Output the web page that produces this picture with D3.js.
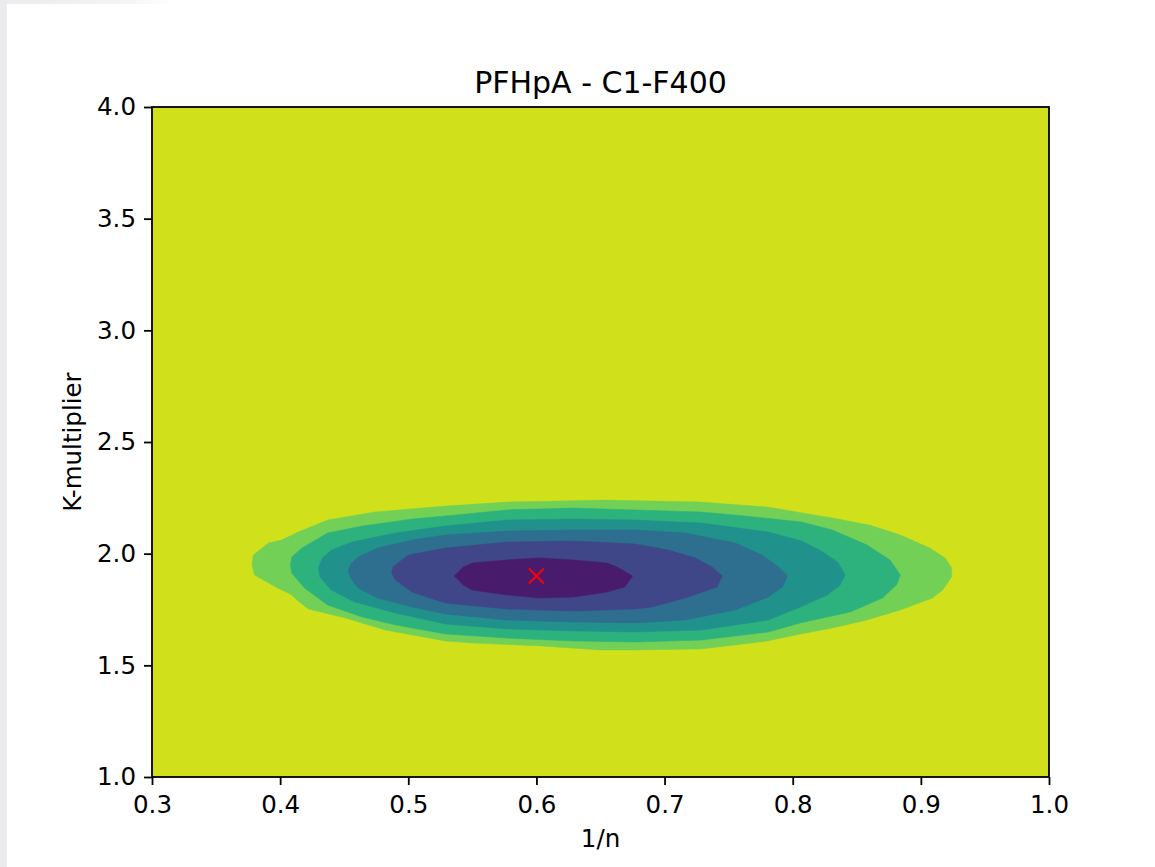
<!DOCTYPE html>
<html>
<head>
<meta charset="utf-8">
<script src="https://cdn.jsdelivr.net/npm/d3@7"></script>
<style>
  html, body { margin: 0; padding: 0; background: #ffffff; }
  svg { display: block; }
  text { font-family: "DejaVu Sans", sans-serif; fill: #000; }
</style>
</head>
<body>
<svg id="chart" width="1155" height="867"></svg>
<script>
// Axis ranges and ticks
const xDomain = [0.3, 1.0];
const yDomain = [1.0, 4.0];
const xTicks = [0.3, 0.4, 0.5, 0.6, 0.7, 0.8, 0.9, 1.0];
const yTicks = [1.0, 1.5, 2.0, 2.5, 3.0, 3.5, 4.0];

// Filled contour bands, outermost to innermost: [1/n, K-multiplier]
const band1 = [[0.378,1.949],[0.379,1.994],[0.391,2.048],[0.401,2.061],[0.414,2.097],[0.437,2.151],[0.474,2.187],[0.529,2.213],[0.577,2.231],[0.655,2.240],[0.728,2.231],[0.780,2.209],[0.831,2.160],[0.860,2.128],[0.884,2.084],[0.907,2.025],[0.919,1.981],[0.924,1.936],[0.924,1.896],[0.917,1.837],[0.909,1.801],[0.884,1.748],[0.858,1.703],[0.831,1.667],[0.806,1.640],[0.780,1.609],[0.755,1.591],[0.728,1.573],[0.677,1.569],[0.650,1.569],[0.603,1.587],[0.550,1.600],[0.529,1.609],[0.482,1.658],[0.451,1.712],[0.422,1.752],[0.415,1.784],[0.408,1.819],[0.398,1.846],[0.380,1.904]];
const band2 = [[0.408,1.949],[0.409,1.985],[0.417,2.025],[0.437,2.093],[0.464,2.124],[0.503,2.155],[0.529,2.169],[0.577,2.196],[0.629,2.204],[0.677,2.196],[0.728,2.187],[0.755,2.173],[0.807,2.142],[0.831,2.106],[0.858,2.039],[0.876,1.972],[0.884,1.904],[0.881,1.860],[0.870,1.801],[0.845,1.739],[0.806,1.690],[0.781,1.649],[0.729,1.613],[0.677,1.604],[0.629,1.609],[0.577,1.622],[0.529,1.640],[0.490,1.681],[0.464,1.716],[0.437,1.770],[0.419,1.846],[0.409,1.913]];
const band3 = [[0.430,1.940],[0.433,1.981],[0.440,2.016],[0.456,2.052],[0.490,2.093],[0.529,2.124],[0.577,2.151],[0.629,2.155],[0.677,2.151],[0.729,2.137],[0.781,2.097],[0.807,2.057],[0.821,2.016],[0.835,1.963],[0.841,1.904],[0.837,1.860],[0.827,1.815],[0.806,1.761],[0.781,1.703],[0.729,1.658],[0.677,1.649],[0.629,1.654],[0.577,1.663],[0.529,1.685],[0.490,1.734],[0.458,1.784],[0.440,1.837],[0.431,1.896]];
const band4 = [[0.453,1.922],[0.455,1.954],[0.461,1.985],[0.476,2.025],[0.503,2.061],[0.529,2.084],[0.577,2.101],[0.629,2.106],[0.677,2.106],[0.716,2.093],[0.755,2.048],[0.776,1.994],[0.789,1.940],[0.796,1.900],[0.792,1.851],[0.781,1.806],[0.755,1.748],[0.716,1.703],[0.677,1.690],[0.629,1.694],[0.577,1.703],[0.529,1.730],[0.503,1.761],[0.476,1.801],[0.461,1.846],[0.456,1.882]];
const band5 = [[0.487,1.913],[0.488,1.940],[0.500,1.994],[0.529,2.025],[0.577,2.052],[0.629,2.057],[0.677,2.043],[0.703,2.016],[0.724,1.981],[0.737,1.940],[0.745,1.900],[0.741,1.851],[0.716,1.801],[0.690,1.761],[0.677,1.752],[0.629,1.743],[0.577,1.752],[0.529,1.779],[0.503,1.828],[0.490,1.882]];
const band6 = [[0.536,1.900],[0.543,1.940],[0.550,1.958],[0.577,1.972],[0.603,1.981],[0.629,1.972],[0.655,1.958],[0.663,1.940],[0.675,1.900],[0.669,1.851],[0.655,1.828],[0.629,1.806],[0.603,1.801],[0.577,1.815],[0.550,1.837],[0.543,1.860]];

// Best-fit parameter pair
const bestFit = [0.6, 1.9];

const titleText = "PFHpA - C1-F400";
const xLabel = "1/n";
const yLabel = "K-multiplier";

// Layout
const W = 1155, H = 867;
const plot = { left: 152, right: 1049, top: 107, bottom: 777 };

const svg = d3.select("#chart");

// Page edge shading
const defs = svg.append("defs");
const grad = defs.append("linearGradient").attr("id", "topFade")
  .attr("x1", "0").attr("x2", "1").attr("y1", "0").attr("y2", "0");
grad.append("stop").attr("offset", "0").attr("stop-color", "#ececec");
grad.append("stop").attr("offset", "0.7").attr("stop-color", "#f3f3f3");
grad.append("stop").attr("offset", "1").attr("stop-color", "#ffffff");
svg.append("rect").attr("x", 0).attr("y", 0).attr("width", 175).attr("height", 4).attr("fill", "url(#topFade)");
svg.append("rect").attr("x", 0).attr("y", 0).attr("width", 7).attr("height", H).attr("fill", "#ebebed");

const x = d3.scaleLinear().domain(xDomain).range([plot.left, plot.right]);
const y = d3.scaleLinear().domain(yDomain).range([plot.bottom, plot.top]);

defs.append("clipPath").attr("id", "plotClip")
  .append("rect")
  .attr("x", plot.left).attr("y", plot.top)
  .attr("width", plot.right - plot.left).attr("height", plot.bottom - plot.top);

// Seven viridis bands, colour taken at each band's mid-level
const bands = [band1, band2, band3, band4, band5, band6];
const nBands = bands.length + 1;
const bandColor = i => d3.interpolateViridis((nBands - 1 - i + 0.5) / nBands);

const g = svg.append("g").attr("clip-path", "url(#plotClip)");
g.append("rect")
  .attr("x", plot.left).attr("y", plot.top)
  .attr("width", plot.right - plot.left).attr("height", plot.bottom - plot.top)
  .attr("fill", bandColor(0));

const area = d3.line().x(d => x(d[0])).y(d => y(d[1])).curve(d3.curveLinearClosed);
g.selectAll("path.band")
  .data(bands)
  .join("path")
  .attr("class", "band")
  .attr("d", area)
  .attr("fill", (d, i) => bandColor(i + 1))
  .attr("stroke", (d, i) => bandColor(i + 1))
  .attr("stroke-width", 0.5);

// Best-fit marker
const mx = x(bestFit[0]), my = y(bestFit[1]), ms = 7.5;
const marker = svg.append("g").attr("stroke", "#ff0000").attr("stroke-width", 2);
marker.append("line").attr("x1", mx - ms).attr("y1", my - ms).attr("x2", mx + ms).attr("y2", my + ms);
marker.append("line").attr("x1", mx - ms).attr("y1", my + ms).attr("x2", mx + ms).attr("y2", my - ms);

// Axes
const tickLen = 8;
const xAxis = d3.axisBottom(x).tickValues(xTicks).tickFormat(d3.format(".1f"))
  .tickSizeInner(tickLen).tickSizeOuter(0).tickPadding(10.5);
const yAxis = d3.axisLeft(y).tickValues(yTicks).tickFormat(d3.format(".1f"))
  .tickSizeInner(tickLen).tickSizeOuter(0).tickPadding(8);

const gx = svg.append("g").attr("transform", `translate(0,${plot.bottom})`).call(xAxis);
const gy = svg.append("g").attr("transform", `translate(${plot.left},0)`).call(yAxis);
[gx, gy].forEach(a => {
  a.select(".domain").remove();
  a.selectAll(".tick line").attr("stroke", "#000").attr("stroke-width", 1.8);
  a.selectAll(".tick text").attr("font-size", 24.5).attr("font-family", "DejaVu Sans").attr("fill", "#000");
});
gx.selectAll(".tick text").attr("dy", "0.71em");

// Frame
svg.append("rect")
  .attr("x", plot.left).attr("y", plot.top)
  .attr("width", plot.right - plot.left).attr("height", plot.bottom - plot.top)
  .attr("fill", "none").attr("stroke", "#000").attr("stroke-width", 1.8);

// Title and axis labels
svg.append("text").attr("x", (plot.left + plot.right) / 2).attr("y", 93)
  .attr("text-anchor", "middle").attr("font-size", 30).text(titleText);
svg.append("text").attr("x", (plot.left + plot.right) / 2).attr("y", 847)
  .attr("text-anchor", "middle").attr("font-size", 24.5).text(xLabel);
svg.append("text")
  .attr("transform", `translate(81,${(plot.top + plot.bottom) / 2}) rotate(-90)`)
  .attr("text-anchor", "middle").attr("font-size", 24.5).text(yLabel);
</script>
</body>
</html>
